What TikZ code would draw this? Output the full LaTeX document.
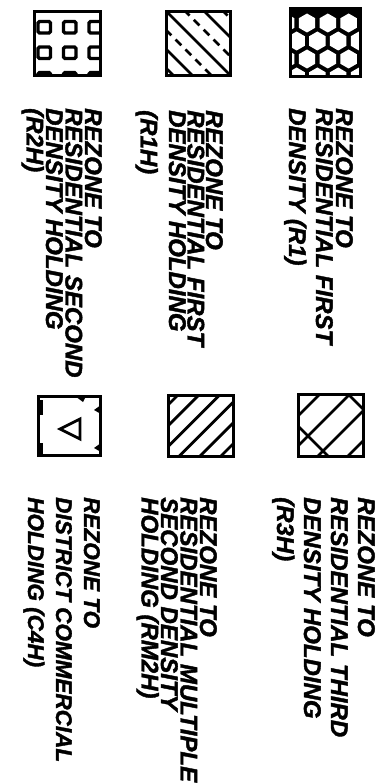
\documentclass[tikz,border=0pt]{standalone}
\usepackage{fontspec}
\setmainfont{Liberation Sans}
\newfontfamily\legfam{Liberation Sans}[BoldItalicFeatures={FakeBold=1.6}]
\usetikzlibrary{calc}
\newcommand\legfont[2]{\fontsize{#1}{#2}\selectfont\legfam\bfseries\itshape}

\begin{document}
\begin{tikzpicture}[
  x=1pt,y=-1pt,
  swatch/.style={inner sep=0pt,outer sep=0pt,minimum width=68pt,minimum height=65pt},
  frame/.style={line width=3.8pt},
  hatch/.style={line width=2.8pt},
  legtext/.style={rotate=-90,anchor=north west,inner sep=0pt,align=left,font=\legfont{24}{#1}},
  legtext/.default=20.5
]
\useasboundingbox (0,0) rectangle (390,784);

% R1 -- honeycomb
\node[swatch,minimum width=70pt,minimum height=68pt] (r1) at (325.5,42.5) {};
\fill (r1.south west) rectangle (r1.north east);
\begin{scope}
  \clip (r1.south west) rectangle (r1.north east);
  \foreach \row in {0,...,3}
    \foreach \col in {-1,...,3} {
      \pgfmathsetmacro\hx{286.2+20.8*\col+10.4*mod(\row,2)}
      \pgfmathsetmacro\hy{23+18*\row}
      \fill[white] (\hx,\hy) +(30:9.5) -- +(90:9.5) -- +(150:9.5) -- +(210:9.5) -- +(270:9.5) -- +(330:9.5) -- cycle;
    }
\end{scope}
\draw[frame] (r1.south west) rectangle (r1.north east);

% R1H -- solid and dashed hatch
\node[swatch,minimum width=64pt,minimum height=64pt] (r1h) at (198.5,43.5) {};
\begin{scope}
  \clip (r1h.south west) rectangle (r1h.north east);
  \foreach \c in {-38,0,38}
    \draw[hatch] (165+\c-10,0) -- ++(90,90);
  \foreach \c in {-57,-19,19,57}
    \draw[hatch,dash pattern=on 8pt off 6pt] (165+\c-10,0) -- ++(90,90);
\end{scope}
\draw[frame] (r1h.south west) rectangle (r1h.north east);

% R2H -- small squares
\node[swatch,minimum width=66pt,minimum height=64pt] (r2h) at (67.5,43.5) {};
\begin{scope}
  \clip (r2h.south west) rectangle (r2h.north east);
  \foreach \sx in {38,63.5,89}
    \foreach \sy in {21.5,47,72.5}
      \draw[hatch,line width=3.2pt,rounded corners=1.5pt] (\sx,\sy) rectangle ++(12.5,11.5);
\end{scope}
\draw[frame] (r2h.south west) rectangle (r2h.north east);

% R3H -- cross hatch
\node[swatch,minimum width=65pt,minimum height=62pt] (r3h) at (331,425.5) {};
\begin{scope}
  \clip (r3h.south west) rectangle (r3h.north east);
  \foreach \s in {24,54,84,114}
    \draw[hatch] (297+\s+10,383) -- ++(-90,90);
  \foreach \c in {-32,50}
    \draw[hatch] (297+\c-10,383) -- ++(90,90);
\end{scope}
\draw[frame] (r3h.south west) rectangle (r3h.north east);

% RM2H -- single hatch
\node[swatch,minimum width=65pt,minimum height=61pt] (rm2h) at (201,426) {};
\begin{scope}
  \clip (rm2h.south west) rectangle (rm2h.north east);
  \foreach \k in {0,...,5}
    \draw[hatch] (167+12+20.8*\k+10,384) -- ++(-90,90);
\end{scope}
\draw[frame] (rm2h.south west) rectangle (rm2h.north east);

% C4H -- triangles
\node[swatch,minimum width=62pt,minimum height=59pt] (c4h) at (69.5,426) {};
\draw[hatch,line join=miter] (60,429) -- (80,419) -- (80,439) -- cycle;
\fill (75,396) -- (86,396) -- (83,402) -- cycle;
\fill (101,405) -- (94,410) -- (101,414) -- cycle;
\fill (101,443) -- (94,448) -- (101,452) -- cycle;
\fill (38,400) rectangle (43,415);
\fill (38,443) rectangle (43,455);
\draw[frame] (c4h.south west) rectangle (c4h.north east);

% labels
\node[legtext=20] (t-r1) at (353,108) {REZONE TO\\RESIDENTIAL FIRST\\[7pt]DENSITY (R1)};
\node[legtext=18.5] (t-r1h) at (223,110) {REZONE TO\\RESIDENTIAL FIRST\\DENSITY HOLDING\\[10pt](R1H)};
\node[legtext=19.5] (t-r2h) at (102,108) {REZONE TO\\RESIDENTIAL SECOND\\DENSITY HOLDING\\(R2H)};
\node[legtext=27] (t-r3h) at (375,497) {REZONE TO\\RESIDENTIAL THIRD\\DENSITY HOLDING\\(R3H)};
\node[legtext=19.5] (t-rm2h) at (217,497) {REZONE TO\\RESIDENTIAL MULTIPLE\\SECOND DENSITY\\HOLDING (RM2H)};
\node[legtext=28,font=\legfont{22.5}{28}] (t-c4h) at (100,497) {REZONE TO\\DISTRICT COMMERCIAL\\HOLDING (C4H)};
\end{tikzpicture}
\end{document}
